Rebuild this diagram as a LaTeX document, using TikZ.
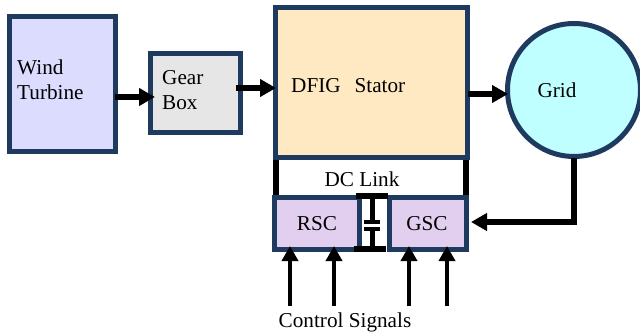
\documentclass[tikz,border=0pt]{standalone}
\usepackage{fontspec}
\setmainfont{Liberation Serif}
\usetikzlibrary{arrows.meta}
\definecolor{edge}{HTML}{1F3A5F}
\definecolor{wt}{HTML}{DCDCFF}
\definecolor{gb}{HTML}{E6E6E6}
\definecolor{df}{HTML}{FFE9C2}
\definecolor{gr}{HTML}{BFFFFF}
\definecolor{cv}{HTML}{E2CFEF}
\tikzset{
  block/.style={draw=edge,line width=5pt,inner sep=0pt},
  lab/.style={inner sep=0pt,font=\fontsize{21.2}{25}\selectfont},
  conn/.style={line width=5.2pt,black},
  flow/.style={conn,-{Triangle[length=16pt,width=17pt]}},
  sig/.style={line width=4pt,black,-{Triangle[length=15pt,width=16pt]}}
}
\begin{document}
\begin{tikzpicture}[x=1pt,y=-1pt]
\useasboundingbox (0,0) rectangle (640,334);
\fill[white] (0,0) rectangle (640,334);
% blocks
\node[block,fill=wt,minimum width=106pt,minimum height=135pt] (wt) at (62,84) {};
\node[block,fill=gb,minimum width=90pt,minimum height=79pt] (gb) at (195,93.5) {};
\node[block,fill=df,minimum width=192pt,minimum height=150pt] (df) at (371,83) {};
\node[draw=edge,line width=5pt,circle,fill=gr,minimum size=133pt,inner sep=0pt] (grid) at (574,90) {};
\node[block,fill=cv,minimum width=85pt,minimum height=52pt] (rsc) at (316.5,223) {};
\node[block,fill=cv,minimum width=77pt,minimum height=52pt] (gsc) at (427.5,223) {};
% texts
\node[lab,anchor=west,align=left] (twt) at (17,79.5) {Wind\\[-0.5pt]Turbine};
\node[lab,anchor=west,align=left] (tgb) at (162,90.5) {Gear\\Box};
\node[lab,anchor=west] (tdf) at (291,86) {DFIG\hspace{14pt}Stator};
\node[lab] (tgr) at (557,90.5) {Grid};
\node[lab] (tdc) at (362,179) {DC Link};
\node[lab] (trsc) at (317,224) {RSC};
\node[lab] (tgsc) at (427,224) {GSC};
\node[lab] (tcs) at (345,322) {Control Signals};
% DC link frame
\coordinate (dl) at (276,160);
\coordinate (dlb) at (276,195);
\coordinate (dr) at (466,160);
\coordinate (drb) at (466,195);
\draw[conn] (dl) -- (dlb);
\draw[conn] (dr) -- (drb);
% capacitor
\coordinate (captl) at (356,196);
\coordinate (captr) at (388,196);
\coordinate (capbl) at (354,249);
\coordinate (capbr) at (386,249);
\coordinate (capt) at (372.5,196);
\coordinate (capb) at (372.5,249);
\coordinate (c1) at (372.5,221.5);
\coordinate (c2) at (372.5,229);
\coordinate (c1l) at (364,221.5);
\coordinate (c1r) at (380,221.5);
\coordinate (c2l) at (364,229);
\coordinate (c2r) at (380,229);
\fill[white] (362,198) rectangle (385,247);
\draw[conn] (captl) -- (captr);
\draw[conn] (capbl) -- (capbr);
\draw[conn] (capt) -- (c1);
\draw[conn] (c2) -- (capb);
\draw[conn,line width=4pt] (c1l) -- (c1r);
\draw[conn,line width=4pt] (c2l) -- (c2r);
% flows
\coordinate (a1) at (115,97);
\coordinate (a1e) at (155,97);
\coordinate (a2) at (236,88);
\coordinate (a2e) at (276,88);
\coordinate (a3) at (468,94);
\coordinate (a3e) at (508,94);
\coordinate (gd) at (574,158);
\coordinate (gc) at (574,222);
\coordinate (gs) at (471,222);
\draw[flow] (a1) -- (a1e);
\draw[flow] (a2) -- (a2e);
\draw[flow] (a3) -- (a3e);
\draw[conn,-{Triangle[length=16pt,width=17pt]}] (gd) -- (gc) -- (gs);
% control signals
\foreach \n/\x in {s1/290,s2/334,s3/409,s4/447}{
  \coordinate (\n b) at (\x,306);
  \coordinate (\n t) at (\x,246);
  \draw[sig] (\n b) -- (\n t);
}
\end{tikzpicture}
\end{document}
